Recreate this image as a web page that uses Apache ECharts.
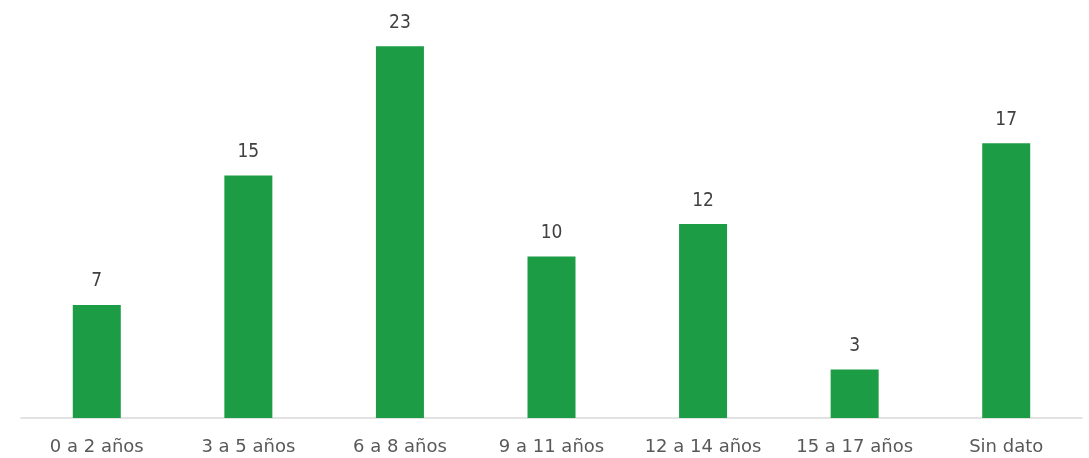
<!DOCTYPE html>
<html>
<head>
<meta charset="utf-8">
<script src="https://cdn.jsdelivr.net/npm/echarts@6/dist/echarts.min.js"></script>
<style>
  html, body { margin: 0; padding: 0; background: #fff; }
  #chart { width: 1089px; height: 458px; }
</style>
</head>
<body>
<div id="chart"></div>
<script>
const categories = ["0 a 2 años", "3 a 5 años", "6 a 8 años", "9 a 11 años", "12 a 14 años", "15 a 17 años", "Sin dato"];
const values = [7, 15, 23, 10, 12, 3, 17];

const chart = echarts.init(document.getElementById("chart"));

chart.setOption({
  backgroundColor: "#ffffff",
  animation: false,
  grid: {
    left: 21,
    right: 7,
    top: 14,
    bottom: 40,
    containLabel: false,
  },
  xAxis: {
    type: "category",
    data: categories,
    axisTick: { show: false },
    axisLine: { lineStyle: { color: "#d9d9d9", width: 1.5 } },
    axisLabel: {
      interval: 0,
      color: "#595959",
      fontFamily: "'DejaVu Sans', sans-serif",
      fontSize: 18,
      margin: 20,
    },
  },
  yAxis: {
    type: "value",
    min: 0,
    max: 25,
    show: false,
    splitLine: { show: false },
  },
  series: [
    {
      type: "bar",
      data: values,
      barWidth: 48,
      itemStyle: { color: "#1c9c44" },
      label: {
        show: true,
        position: "top",
        distance: 14,
        color: "#404040",
        fontFamily: "'DejaVu Sans Condensed', sans-serif",
        fontSize: 19,
      },
    },
  ],
});
</script>
</body>
</html>
